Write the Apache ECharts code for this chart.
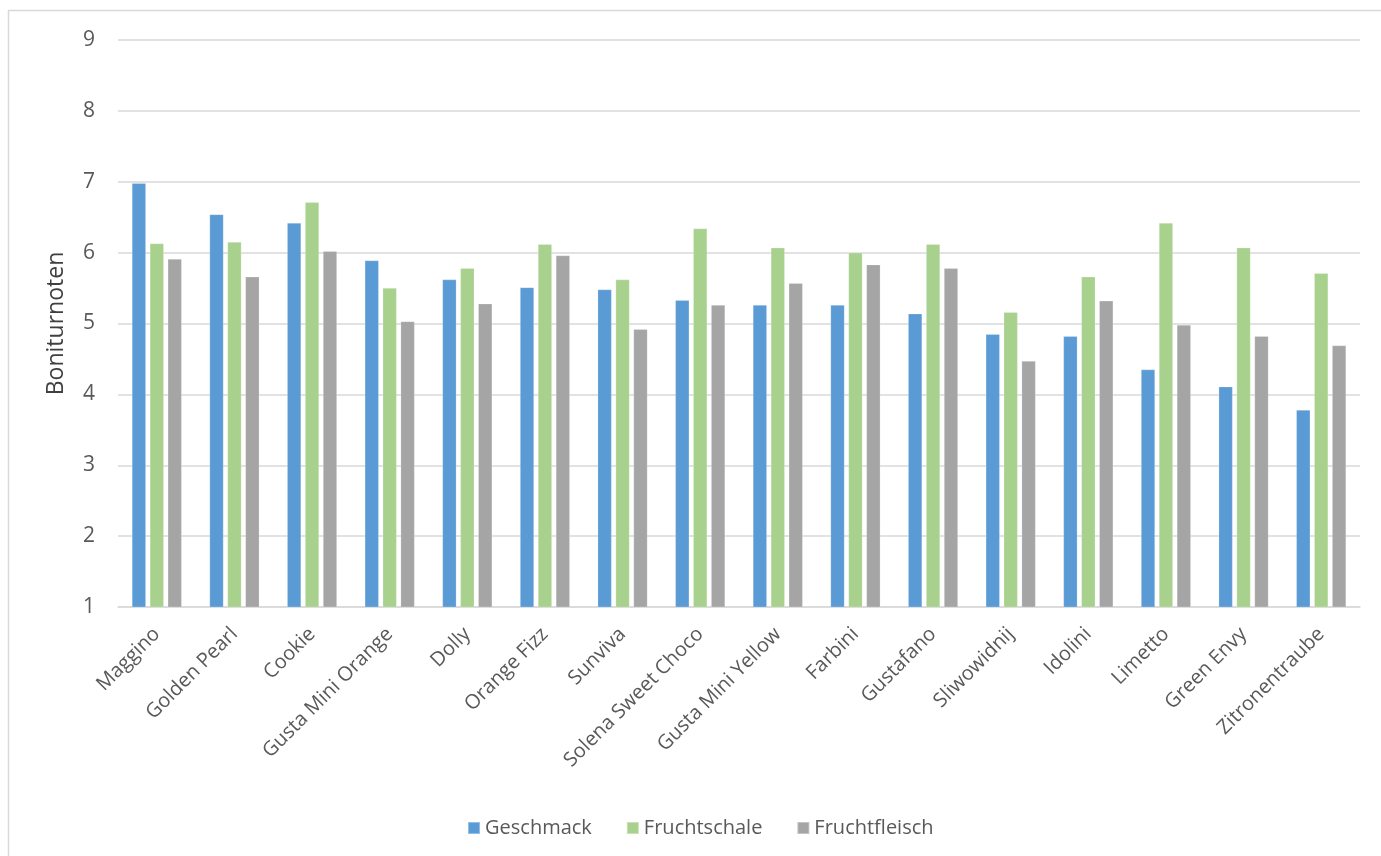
<!DOCTYPE html>
<html><head><meta charset="utf-8">
<script src="https://cdn.jsdelivr.net/npm/echarts@6/dist/echarts.min.js"></script>
<style>html,body{margin:0;padding:0;background:#fff}#c{width:1381px;height:856px}</style>
</head><body><div id="c"></div>
<script>
const categories = ["Maggino","Golden Pearl","Cookie","Gusta Mini Orange","Dolly","Orange Fizz","Sunviva","Solena Sweet Choco","Gusta Mini Yellow","Farbini","Gustafano","Sliwowidnij","Idolini","Limetto","Green Envy","Zitronentraube"];
const geschmack     = [6.98,6.54,6.42,5.89,5.62,5.51,5.48,5.33,5.26,5.26,5.14,4.85,4.82,4.35,4.11,3.78];
const fruchtschale  = [6.13,6.15,6.71,5.50,5.78,6.12,5.62,6.34,6.07,6.00,6.12,5.16,5.66,6.42,6.07,5.71];
const fruchtfleisch = [5.91,5.66,6.02,5.03,5.28,5.96,4.92,5.26,5.57,5.83,5.78,4.47,5.32,4.98,4.82,4.69];
const yTicks = [1,2,3,4,5,6,7,8,9];

const font = '"Open Sans", "Noto Sans", sans-serif';
const chart = echarts.init(document.getElementById('c'));
const mk = (name, data, color) => ({
  name, type: 'bar', data, barWidth: 14, barGap: '28%',
  itemStyle: { color, borderColor: 'rgba(255,255,255,0.35)', borderWidth: 0.6 }
});
chart.setOption({
  animation: false,
  textStyle: { fontFamily: font },
  graphic: [{ type: 'rect', shape: { x: 8.5, y: 10.5, width: 1400, height: 900 }, style: { fill: 'none', stroke: '#D9D9D9', lineWidth: 1.5 }, silent: true }],
  grid: { left: 118, right: 21, top: 40, bottom: 249 },
  legend: {
    left: 462, top: 813, itemWidth: 12, itemHeight: 12, itemGap: 34,
    icon: 'rect',
    textStyle: { fontSize: 20, color: '#595959', fontFamily: font, padding: [0, 0, 0, 0] },
    data: ['Geschmack', 'Fruchtschale', 'Fruchtfleisch']
  },
  xAxis: {
    type: 'category', data: categories,
    axisLine: { lineStyle: { color: '#D9D9D9', width: 1.5 } },
    axisTick: { show: false },
    axisLabel: { rotate: 45, interval: 0, fontSize: 20, color: '#595959', margin: 24, fontFamily: font }
  },
  yAxis: {
    type: 'value', min: yTicks[0], max: yTicks[yTicks.length - 1], interval: 1,
    name: 'Boniturnoten', nameLocation: 'middle', nameGap: 50,
    nameTextStyle: { fontSize: 23, color: '#404040', fontFamily: font },
    axisLine: { show: false }, axisTick: { show: false },
    axisLabel: { fontSize: 21, color: '#595959', margin: 23, fontFamily: font },
    splitLine: { lineStyle: { color: '#D9D9D9', width: 1.5 } }
  },
  series: [
    mk('Geschmack', geschmack, '#5B9BD5'),
    mk('Fruchtschale', fruchtschale, '#A9D18E'),
    mk('Fruchtfleisch', fruchtfleisch, '#A5A5A5')
  ]
});
</script></body></html>
